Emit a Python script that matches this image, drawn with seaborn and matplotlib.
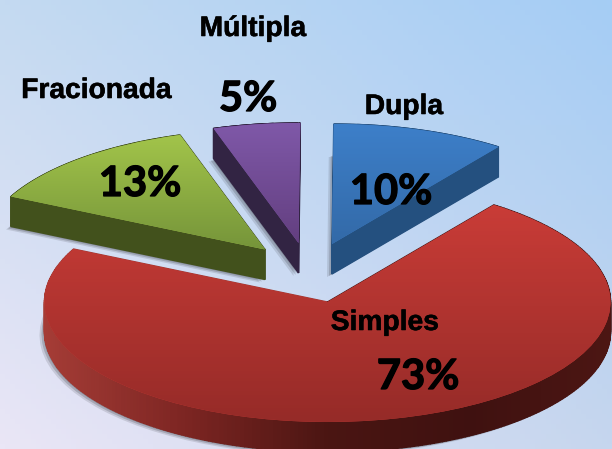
import numpy as np
import matplotlib
matplotlib.use('Agg')
import matplotlib.pyplot as plt
import matplotlib.patheffects as pe
import seaborn as sns
from matplotlib.patches import Wedge, Polygon

# dados do grafico
categorias = ['Dupla', 'Múltipla', 'Fracionada', 'Simples']
valores = [10, 5, 13, 73]

# cores: topo claro, topo escuro, lateral
topo_claro = ['#3d7fc9', '#7f58a8', '#a2c44a', '#c93c37']
topo_escuro = ['#336aa8', '#633f80', '#76953a', '#962b28']
lateral = [['#24507f', '#24507f'], ['#322443', '#322443'], ['#42511c', '#42511c'],
           ['#a53c36', '#7c2522', '#4a1512', '#3f1110', '#4c1613']]

# layout em pixels da imagem
centros = [(332, 244), (298.5, 243), (265, 249.5), (327.5, 302)]
pos_nomes = [(404, 107), (253, 29), (96.5, 91), (385, 323)]
pos_pct = [(391, 192), (248, 99), (140, 184), (418, 377)]
RX, RY, PROF = 283, 120, 30
W, H = 612, 449

sns.set_theme(style='white')


def px(x, y):
    return x / RX, (H - y) / RY


fig = plt.figure(figsize=(W / 100, H / 100), dpi=100)
ax = fig.add_axes([0, 0, 1, 1])
limx = (0, W / RX)
limy = (0, H / RY)

# fundo em degrade
xx, yy = np.meshgrid(np.linspace(0, 1, 120), np.linspace(0, 1, 90))
cantos = np.array([[234, 230, 246], [198, 214, 238], [196, 218, 241], [165, 205, 245]]) / 255
fundo = np.zeros((90, 120, 3))
for c in range(3):
    fundo[:, :, c] = (cantos[0, c] * (1 - xx) * yy + cantos[1, c] * xx * yy
                      + cantos[2, c] * (1 - xx) * (1 - yy) + cantos[3, c] * xx * (1 - yy))
ax.imshow(fundo, extent=(*limx, *limy), aspect='auto', origin='upper', zorder=0)

# a pizza: depois cada fatia vai para o seu centro
fatias, _ = ax.pie(valores, startangle=54, radius=1, colors=topo_claro, frame=True)
ax.set_aspect('auto')

ordem = [3, 2, 1, 0]
for i in ordem:
    w = fatias[i]
    cx, cy = px(*centros[i])
    w.set_center((cx, cy))
    w.set_zorder(5)
    w.set_edgecolor('none')
    prof = PROF / RY

    # sombra
    for dx, dy, a in [(1, 1, .22), (3, 2, .2), (5, 3, .14)]:
        ax.add_patch(Wedge((cx - dx / RX, cy - prof - dy / RY), 1, w.theta1, w.theta2,
                           color='#2a2a30', alpha=a, lw=0, zorder=2))

    # lateral, em pedacinhos para o degrade horizontal
    ang = np.radians(np.linspace(w.theta1, w.theta2, 300))
    bx = np.r_[cx, cx + np.cos(ang), cx]
    by = np.r_[cy, cy + np.sin(ang), cy]
    cmap = sns.blend_palette(lateral[i], as_cmap=True)
    for k in range(len(bx) - 1):
        t = (min(bx[k], bx[k + 1]) - bx.min()) / (bx.max() - bx.min())
        q = [(bx[k], by[k]), (bx[k + 1], by[k + 1]),
             (bx[k + 1], by[k + 1] - prof), (bx[k], by[k] - prof)]
        cor = cmap(t)
        ax.add_patch(Polygon(q, closed=True, fc=cor, ec=cor, lw=1, zorder=3))

    # topo da fatia com degrade vertical
    topo_y = max(by)
    base_y = min(by)
    grad = sns.blend_palette([topo_claro[i], topo_escuro[i]], n_colors=64, as_cmap=True)
    img = ax.imshow(np.linspace(0, 1, 64).reshape(-1, 1), cmap=grad, aspect='auto',
                    extent=(bx.min(), bx.max(), base_y, topo_y), origin='upper', zorder=6)
    img.set_clip_path(w)

ax.set_xlim(*limx)
ax.set_ylim(*limy)
ax.set_axis_off()

for nome, p in zip(categorias, pos_nomes):
    ax.text(*px(*p), nome, family='Liberation Sans', weight='bold', fontsize=20.3,
            ha='center', va='center', color='black', zorder=10,
            path_effects=[pe.withStroke(linewidth=.4, foreground='black')])
for v, p in zip(valores, pos_pct):
    ax.text(*px(*p), f'{v}%', family='Lato', weight='bold', fontsize=30,
            ha='center', va='center', color='black', zorder=10,
            path_effects=[pe.withStroke(linewidth=.9, foreground='black')])

fig.savefig('out.png', dpi=100)
